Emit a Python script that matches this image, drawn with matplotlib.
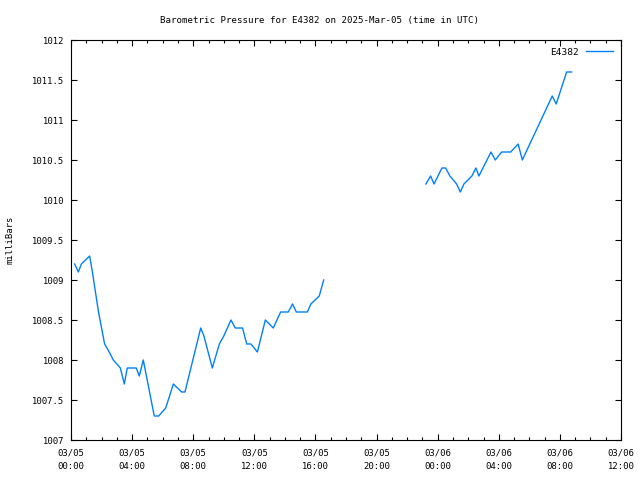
import matplotlib
matplotlib.use('Agg')
import matplotlib.pyplot as plt
import numpy as np

# hours since 2025-03-05 00:00 UTC, NaN marks the data gap
hours = [0.24, 0.48, 0.68, 1.22, 1.4, 1.8, 2.2, 2.5, 2.77, 3.23, 3.49, 3.68,
         4.27, 4.47, 4.73, 5.45, 5.74, 6.2, 6.7, 7.24, 7.46, 8.49, 8.7, 9.25,
         9.71, 10.0, 10.47, 10.75, 11.23, 11.5, 11.78, 12.2, 12.72, 13.24,
         13.72, 14.22, 14.5, 14.75, 15.47, 15.7, 16.25, 16.54,
         20.0,
         23.23, 23.54, 23.76, 24.28, 24.52, 24.8, 25.24, 25.48, 25.72, 26.24,
         26.5, 26.7, 27.49, 27.77, 28.19, 28.78, 29.27, 29.54, 31.5, 31.76,
         32.44, 32.77]
pressure = [1009.2, 1009.1, 1009.2, 1009.3, 1009.1, 1008.6, 1008.2, 1008.1,
            1008.0, 1007.9, 1007.7, 1007.9, 1007.9, 1007.8, 1008.0, 1007.3,
            1007.3, 1007.4, 1007.7, 1007.6, 1007.6, 1008.4, 1008.3, 1007.9,
            1008.2, 1008.3, 1008.5, 1008.4, 1008.4, 1008.2, 1008.2, 1008.1,
            1008.5, 1008.4, 1008.6, 1008.6, 1008.7, 1008.6, 1008.6, 1008.7,
            1008.8, 1009.0,
            np.nan,
            1010.2, 1010.3, 1010.2, 1010.4, 1010.4, 1010.3, 1010.2, 1010.1,
            1010.2, 1010.3, 1010.4, 1010.3, 1010.6, 1010.5, 1010.6, 1010.6,
            1010.7, 1010.5, 1011.3, 1011.2, 1011.6, 1011.6]

xtick_pos = [0, 4, 8, 12, 16, 20, 24, 28, 32, 36]
xtick_labels = ['03/05\n00:00', '03/05\n04:00', '03/05\n08:00', '03/05\n12:00',
                '03/05\n16:00', '03/05\n20:00', '03/06\n00:00', '03/06\n04:00',
                '03/06\n08:00', '03/06\n12:00']
ytick_pos = [1007, 1007.5, 1008, 1008.5, 1009, 1009.5, 1010, 1010.5, 1011, 1011.5, 1012]

plt.rcParams['font.family'] = 'DejaVu Sans Mono'
plt.rcParams['font.size'] = 6.4

fig = plt.figure(figsize=(6.4, 4.8), dpi=100)
ax = fig.add_axes([71/640, 40/480, 550/640, 400/480])

ax.plot(hours, pressure, color='#0080ff', lw=1.0, label='E4382')

ax.set_xlim(0, 36)
ax.set_ylim(1007, 1012)
ax.set_xticks(xtick_pos)
ax.set_xticklabels(xtick_labels, linespacing=1.6)
ax.set_xticks(np.arange(0, 37, 1), minor=True)
ax.set_yticks(ytick_pos)
ax.set_yticklabels(['%g' % v for v in ytick_pos])

ax.tick_params(which='both', direction='in', top=True, right=True, width=0.8)
ax.tick_params(which='major', length=4.5, pad=5)
ax.tick_params(which='minor', length=2.5)
ax.tick_params(axis='x', which='major', pad=6)
for s in ax.spines.values():
    s.set_linewidth(0.8)

ax.set_ylabel('milliBars')
ax.yaxis.set_label_coords(-0.102, 0.5)
fig.text(0.5, 1 - 20/480, 'Barometric Pressure for E4382 on 2025-Mar-05 (time in UTC)',
         ha='center', va='center', fontsize=6.6)

ax.legend(loc='upper right', frameon=False, markerfirst=False, handlelength=2.9,
          borderaxespad=0.4, fontsize=6.8)

fig.savefig('out.png', dpi=100)
